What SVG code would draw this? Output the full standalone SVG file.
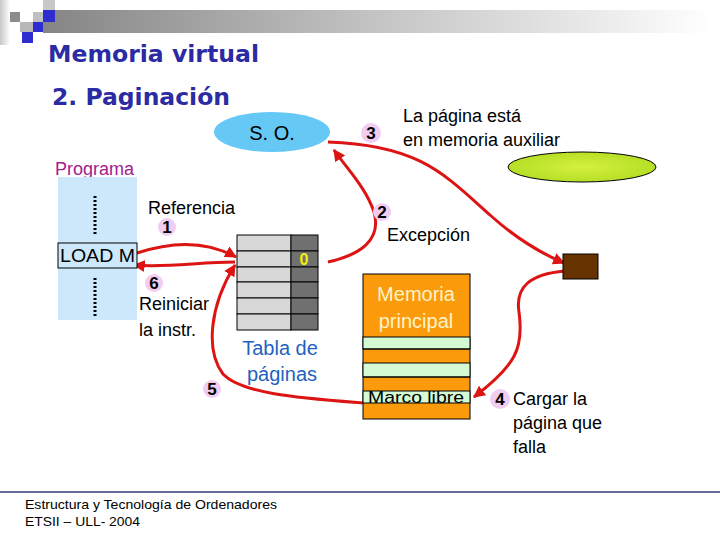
<svg xmlns="http://www.w3.org/2000/svg" width="720" height="540" viewBox="0 0 720 540">
<defs>
<linearGradient id="bar" x1="0" y1="0" x2="1" y2="0">
<stop offset="0" stop-color="#858585"/>
<stop offset="0.5" stop-color="#c4c4c4"/>
<stop offset="1" stop-color="#ffffff"/>
</linearGradient>
<linearGradient id="edge" x1="0" y1="0" x2="1" y2="0">
<stop offset="0" stop-color="#c8c8c8"/>
<stop offset="1" stop-color="#ffffff"/>
</linearGradient>
<radialGradient id="green" cx="0.5" cy="0.5" r="0.6">
<stop offset="0" stop-color="#d4f040"/>
<stop offset="1" stop-color="#b0dc20"/>
</radialGradient>
<marker id="ah" viewBox="0 0 10 10" refX="9" refY="5" markerWidth="4" markerHeight="4" orient="auto" markerUnits="strokeWidth">
<path d="M0,0 L10,5 L0,10 z" fill="#dd1414"/>
</marker>
</defs>
<style>
.t{font-family:"Liberation Sans",Arial,sans-serif;fill:#000}
.num{font-family:"Liberation Sans",Arial,sans-serif;font-weight:bold;font-size:17px;fill:#000;text-anchor:middle}
.badge{fill:#f2cdf2}
.title{font-family:"DejaVu Sans",Verdana,sans-serif;font-weight:bold;fill:#2b2ba3}
.arr{fill:none;stroke:#dd1414;stroke-width:3;marker-end:url(#ah)}
.cell{stroke:#000;stroke-width:1}
.dots{stroke:#000;stroke-width:3;stroke-dasharray:2,2}
</style>
<rect width="720" height="540" fill="#fff"/>
<!-- header -->
<g id="header">
<rect x="0" y="0" width="10" height="45" fill="url(#edge)"/>
<rect x="43" y="10" width="670" height="23" fill="url(#bar)"/>
<rect x="10" y="12" width="10" height="10" fill="#8c8c8c"/>
<rect x="20" y="22" width="13" height="10" fill="#b8b8b8"/>
<rect x="33" y="12" width="10" height="10" fill="#c0c0c0"/>
<rect x="43" y="0" width="12" height="10" fill="#c8c8c8"/>
<rect x="43" y="10" width="12" height="12" fill="#2e2ed0"/>
<rect x="33" y="22" width="10" height="10" fill="#2e2ed0"/>
<rect x="22" y="32" width="11" height="11" fill="#2e2ed0"/>
<text class="title" x="48" y="62" font-size="23" textLength="211" lengthAdjust="spacingAndGlyphs">Memoria virtual</text>
<text class="title" x="52" y="105" font-size="23" textLength="178" lengthAdjust="spacingAndGlyphs">2. Paginación</text>
</g>
<!-- connectors -->
<g id="connectors">
<path class="arr" d="M137,253 C170,242 205,240 236,257"/>
<path class="arr" d="M235,262 C200,262 165,268 134,265"/>
<path class="arr" d="M328,262 C360,255 382,240 374,212 C366,188 348,170 334,150"/>
<path class="arr" d="M328,142 C420,145 445,175 490,215 C520,242 545,255 564,263"/>
<path class="arr" d="M565,271 C530,274 515,287 519,312 C524,348 516,365 474,397"/>
<path class="arr" d="M363,403 C300,398 242,394 223,374 C205,350 210,305 235,265"/>
</g>
<!-- S.O. -->
<g id="so">
<ellipse cx="272" cy="132" rx="58" ry="20" fill="#66c8f5"/>
<text class="t" x="272" y="140" font-size="20" text-anchor="middle">S. O.</text>
</g>
<!-- step 3 -->
<g id="step3">
<circle class="badge" cx="371" cy="133" r="10"/>
<text class="num" x="371" y="139">3</text>
<text class="t" x="403" y="122" font-size="18">La página está</text>
<text class="t" x="403" y="146" font-size="18">en memoria auxiliar</text>
</g>
<!-- auxiliary memory -->
<g id="aux">
<ellipse cx="582" cy="167" rx="74" ry="15" fill="url(#green)" stroke="#000" stroke-width="1"/>
</g>
<!-- programa -->
<g id="programa">
<text x="55" y="175" font-family="Liberation Sans,Arial,sans-serif" font-size="18" fill="#a2208e">Programa</text>
<rect x="58" y="177" width="79" height="143" fill="#cce8fa"/>
<line class="dots" x1="95" y1="196" x2="95" y2="234"/>
<line class="dots" x1="95" y1="278" x2="95" y2="317"/>
<rect x="58" y="243" width="79" height="25" fill="#cce8fa" stroke="#000" stroke-width="1"/>
<text class="t" x="60" y="262" font-size="18" textLength="75" lengthAdjust="spacingAndGlyphs">LOAD M</text>
</g>
<!-- step 1 -->
<g id="step1">
<text class="t" x="148" y="214" font-size="18">Referencia</text>
<circle class="badge" cx="167" cy="227" r="9"/>
<text class="num" x="167" y="233">1</text>
</g>
<!-- page table -->
<g id="tabla">
<rect class="cell" x="237" y="235" width="54" height="16" fill="#d8d8d8"/>
<rect class="cell" x="291" y="235" width="27" height="16" fill="#707070"/>
<rect class="cell" x="237" y="251" width="54" height="16" fill="#d8d8d8"/>
<rect class="cell" x="291" y="251" width="27" height="16" fill="#707070"/>
<rect class="cell" x="237" y="267" width="54" height="15" fill="#d8d8d8"/>
<rect class="cell" x="291" y="267" width="27" height="15" fill="#707070"/>
<rect class="cell" x="237" y="282" width="54" height="16" fill="#d8d8d8"/>
<rect class="cell" x="291" y="282" width="27" height="16" fill="#707070"/>
<rect class="cell" x="237" y="298" width="54" height="16" fill="#d8d8d8"/>
<rect class="cell" x="291" y="298" width="27" height="16" fill="#707070"/>
<rect class="cell" x="237" y="314" width="54" height="16" fill="#d8d8d8"/>
<rect class="cell" x="291" y="314" width="27" height="16" fill="#707070"/>
<text x="304" y="265" font-family="Liberation Sans,Arial,sans-serif" font-weight="bold" font-size="16" fill="#f0f000" text-anchor="middle">0</text>
<text x="280" y="355" font-family="Liberation Sans,Arial,sans-serif" font-size="20" fill="#1f62bf" text-anchor="middle">Tabla de</text>
<text x="282" y="381" font-family="Liberation Sans,Arial,sans-serif" font-size="20" fill="#1f62bf" text-anchor="middle">páginas</text>
</g>
<!-- step 2 -->
<g id="step2">
<circle class="badge" cx="382" cy="212" r="9"/>
<text class="num" x="382" y="218">2</text>
<text class="t" x="387" y="241" font-size="18">Excepción</text>
</g>
<!-- step 6 -->
<g id="step6">
<circle class="badge" cx="154" cy="283" r="9"/>
<text class="num" x="154" y="289">6</text>
<text class="t" x="139" y="310" font-size="18">Reiniciar</text>
<text class="t" x="139" y="336" font-size="18">la instr.</text>
</g>
<!-- step 5 -->
<g id="step5">
<circle class="badge" cx="212" cy="389" r="9"/>
<text class="num" x="212" y="395">5</text>
</g>
<!-- page on disk -->
<g id="pagina">
<rect x="563" y="254" width="35" height="25" fill="#663300" stroke="#000" stroke-width="1"/>
</g>
<!-- main memory -->
<g id="memoria">
<rect x="363" y="274" width="107" height="145" fill="#fb9a0a" stroke="#000" stroke-width="1"/>
<rect x="363" y="337" width="107" height="12" fill="#d4fad4" stroke="#000" stroke-width="1"/>
<rect x="363" y="363" width="107" height="14" fill="#d4fad4" stroke="#000" stroke-width="1"/>
<rect x="363" y="391" width="107" height="12" fill="#d4fad4" stroke="#000" stroke-width="1"/>
<line x1="363" y1="349" x2="470" y2="349" stroke="#000"/>
<line x1="363" y1="377" x2="470" y2="377" stroke="#000"/>
<text x="416" y="301" font-family="Liberation Sans,Arial,sans-serif" font-size="20" fill="#fff3c8" text-anchor="middle">Memoria</text>
<text x="416" y="328" font-family="Liberation Sans,Arial,sans-serif" font-size="20" fill="#fff3c8" text-anchor="middle">principal</text>
<text class="t" x="368" y="403" font-size="17" textLength="96" lengthAdjust="spacingAndGlyphs">Marco libre</text>
</g>
<!-- step 4 -->
<g id="step4">
<circle class="badge" cx="500" cy="399" r="10"/>
<text class="num" x="500" y="405">4</text>
<text class="t" x="513" y="405" font-size="18">Cargar la</text>
<text class="t" x="513" y="429" font-size="18">página que</text>
<text class="t" x="513" y="453" font-size="18">falla</text>
</g>
<!-- footer -->
<g id="footer">
<line x1="0" y1="492" x2="720" y2="492" stroke="#3a3a80" stroke-width="1.5"/>
<text class="t" x="25" y="509" font-size="13" textLength="252" lengthAdjust="spacingAndGlyphs">Estructura y Tecnología de Ordenadores</text>
<text class="t" x="25" y="526" font-size="13" textLength="115" lengthAdjust="spacingAndGlyphs">ETSII – ULL- 2004</text>
</g>
</svg>
